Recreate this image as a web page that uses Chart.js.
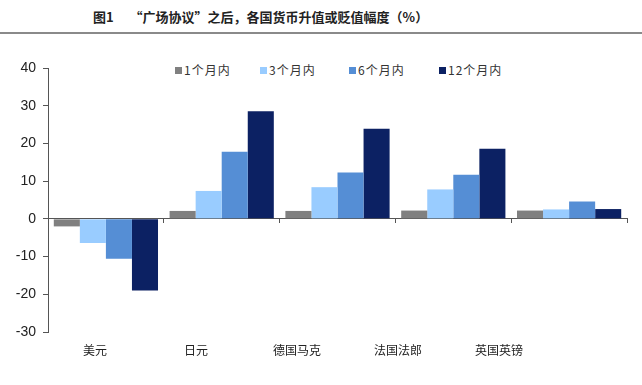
<!DOCTYPE html>
<html><head><meta charset="utf-8">
<script src="https://cdn.jsdelivr.net/npm/chart.js@4/dist/chart.umd.min.js"></script>
<style>
html,body{margin:0;padding:0;background:#fff;}
#wrap{position:relative;width:642px;height:385px;overflow:hidden;background:#fff;}
#title{position:absolute;left:93px;top:7px;font:bold 13px "Noto Sans CJK SC",sans-serif;color:#222;white-space:pre;}
#rule{position:absolute;left:0;top:32px;width:642px;height:2px;background:#8a8a8a;}
#legend{position:absolute;top:62px;left:0;font:12px "Noto Sans CJK SC",sans-serif;color:#333;}
.li{position:absolute;top:0;white-space:nowrap;line-height:16px;letter-spacing:1px;}
.sw{display:inline-block;width:7px;height:7px;margin-right:2px;vertical-align:1px;}
canvas{position:absolute;left:0;top:0;}
</style></head>
<body><div id="wrap">
<div id="title">图1　 “广场协议”之后，各国货币升值或贬值幅度（%）</div>
<div id="rule"></div>
<div id="legend"></div>
<canvas id="c" width="642" height="385"></canvas>
</div>
<script>
const categories = ["美元","日元","德国马克","法国法郎","英国英镑"];
const seriesNames = ["1个月内","3个月内","6个月内","12个月内"];
const oneMonth    = [-2.0, 2.1, 2.1, 2.2, 2.2];
const threeMonth  = [-6.4, 7.4, 8.4, 7.8, 2.5];
const sixMonth    = [-10.6, 17.8, 12.3, 11.7, 4.6];
const twelveMonth = [-19.0, 28.5, 23.9, 18.6, 2.6];
const yTicks = [40,30,20,10,0,-10,-20,-30];

const colors = ["#808080","#99ccff","#558ed5","#0c2163"];
const values = [oneMonth, threeMonth, sixMonth, twelveMonth];
const legendLeft = [175, 260, 349, 439];

const lg = document.getElementById('legend');
seriesNames.forEach((n,i)=>{
  const d=document.createElement('div');d.className='li';d.style.left=legendLeft[i]+'px';
  const s=document.createElement('span');s.className='sw';s.style.background=colors[i];
  d.appendChild(s);d.appendChild(document.createTextNode(n));lg.appendChild(d);
});

const axisCol = '#555';
new Chart(document.getElementById('c'), {
  type:'bar',
  data:{
    labels:categories,
    datasets: seriesNames.map((n,i)=>({label:n,data:values[i],backgroundColor:colors[i],borderWidth:0,
      categoryPercentage:0.9,barPercentage:1.0}))
  },
  options:{
    responsive:false,animation:false,
    layout:{padding:{top:68,right:15,left:0,bottom:0}},
    plugins:{legend:{display:false},tooltip:{enabled:false}},
    scales:{
      x:{type:'category',display:false,offset:true},
      x2:{type:'category',labels:categories,position:{y:0},offset:true,
        grid:{display:true,drawOnChartArea:false,offset:true,tickLength:4,color:axisCol},
        border:{display:true,color:axisCol,width:1},
        ticks:{display:false}},
      xl:{type:'linear',position:'bottom',min:-0.465,max:5.267,offset:false,
        afterBuildTicks:(s)=>{s.ticks=categories.map((c,i)=>({value:i}));},
        afterFit:(s)=>{s.height=53;},
        grid:{display:false,drawTicks:false,offset:false},border:{display:false},
        ticks:{padding:11,color:'#222',font:{family:'"Noto Sans CJK SC"',size:12},
          callback:(v)=>categories[v]??''}},
      y:{min:-30,max:40,
        afterBuildTicks:(s)=>{s.ticks=yTicks.map(v=>({value:v}));},
        afterFit:(s)=>{s.width=48;},
        grid:{display:true,drawOnChartArea:false,tickLength:5,color:axisCol},
        border:{display:true,color:axisCol,width:1},
        ticks:{padding:7,color:'#222',font:{family:'"Liberation Sans"',size:14}}}
    }
  }
});
</script>
</body></html>
